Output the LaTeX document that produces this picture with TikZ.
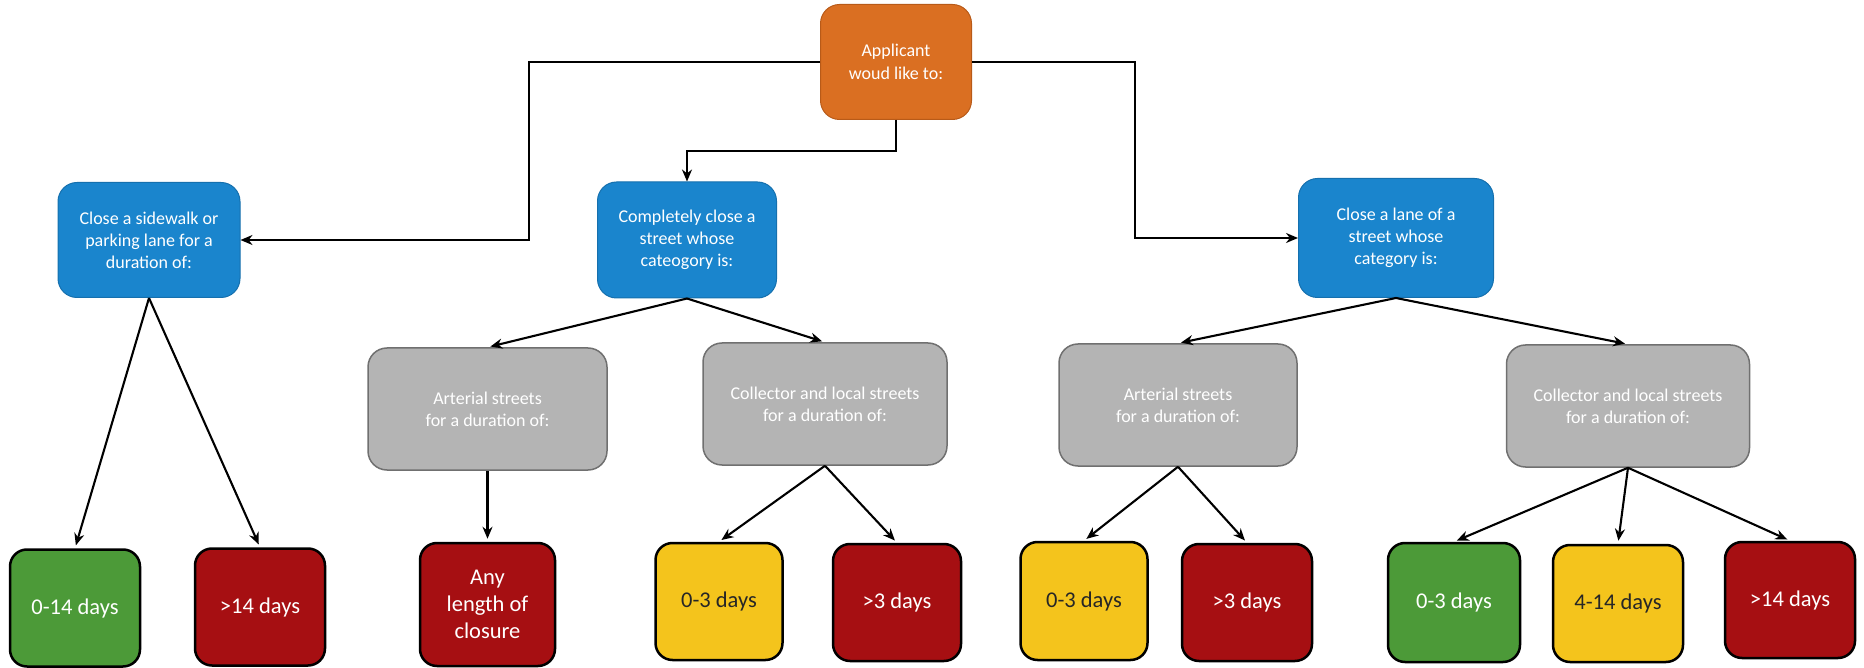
\documentclass[tikz,border=0pt]{standalone}
\usepackage{fontspec}
\setmainfont{Carlito}
\usetikzlibrary{arrows.meta}
\definecolor{corange}{HTML}{DA6F22}
\definecolor{corangeb}{HTML}{B85A18}
\definecolor{cblue}{HTML}{1A85CD}
\definecolor{cblueb}{HTML}{1570AE}
\definecolor{cgrey}{HTML}{B4B4B4}
\definecolor{cgreyb}{HTML}{707070}
\definecolor{cgreen}{HTML}{4C9A38}
\definecolor{cred}{HTML}{A60F12}
\definecolor{cyellow}{HTML}{F4C41C}
\definecolor{cdark}{HTML}{262626}
\begin{document}
\begin{tikzpicture}[x=1pt,y=-1pt,
  basebox/.style={rounded corners=19pt, inner sep=0pt, align=center, text=white},
  topbox/.style={basebox, fill=corange, draw=corangeb, line width=1pt, font=\fontsize{18}{23}\selectfont},
  bluebox/.style={basebox, fill=cblue, draw=cblueb, line width=1pt, font=\fontsize{18}{22}\selectfont},
  greybox/.style={basebox, fill=cgrey, draw=cgreyb, line width=1.5pt, text=white, font=\fontsize{18}{22}\selectfont},
  resbox/.style={basebox, rounded corners=17pt, draw=black, line width=2.5pt, minimum width=129pt, minimum height=117pt, font=\fontsize{22.5}{27}\selectfont},
  greenres/.style={resbox, fill=cgreen},
  redres/.style={resbox, fill=cred},
  yellowres/.style={resbox, fill=cyellow, text=cdark},
  arr/.style={draw=black, line width=2.1pt, -{Stealth[length=12pt,width=10pt]}},
  darr/.style={arr, shorten >=3pt}
]
\useasboundingbox (0,0) rectangle (1864,668);

% top
\node[topbox, minimum width=151pt, minimum height=115pt] (app) at (896,62) {Applicant\\woud like to:};

% second level
\node[bluebox, minimum width=182pt, minimum height=115pt] (side) at (149,240) {Close a sidewalk or\\parking lane for a\\duration of:};
\node[bluebox, minimum width=179pt, minimum height=116pt] (comp) at (687,240) {Completely close a\\street whose\\cateogory is:};
\node[bluebox, minimum width=195pt, minimum height=119pt] (lane) at (1396,238) {Close a lane of a\\street whose\\category is:};

% third level
\node[greybox, minimum width=239pt, minimum height=122pt] (art1) at (487.5,409) {Arterial streets\\for a duration of:};
\node[greybox, minimum width=244pt, minimum height=122pt] (col1) at (825,404) {Collector and local streets\\for a duration of:};
\node[greybox, minimum width=238pt, minimum height=122pt] (art2) at (1178,405) {Arterial streets\\for a duration of:};
\node[greybox, minimum width=243pt, minimum height=122pt] (col2) at (1628,406) {Collector and local streets\\for a duration of:};

% results
\node[greenres, minimum width=130pt] (b1) at (75,608) {0-14 days};
\node[redres, minimum width=130pt] (b2) at (260,607) {>14 days};
\node[redres, minimum width=135pt, minimum height=123pt] (b3) at (487.5,604.5) {Any\\length of\\closure};
\node[yellowres, minimum width=127pt] (b4) at (719,601.5) {0-3 days};
\node[redres, minimum width=128pt] (b5) at (897,602.5) {>3 days};
\node[yellowres, minimum width=127pt, minimum height=118pt] (b6) at (1084,601) {0-3 days};
\node[redres, minimum width=130pt] (b7) at (1247,602.5) {>3 days};
\node[greenres, minimum width=132pt, minimum height=119pt] (b8) at (1454,602.5) {0-3 days};
\node[yellowres, minimum width=130pt] (b9) at (1618,603.5) {4-14 days};
\node[redres, minimum width=130pt, minimum height=116pt] (b10) at (1790,600) {>14 days};

% elbow connectors
\draw[arr] (app.west) -- ++(-291,0) |- (side.east);
\draw[arr] (app.south) -- ++(0,31) -| (comp.north);
\draw[arr] (app.east) -- ++(163,0) |- (lane.west);

% diagonal connectors
\draw[darr] (side.south) -- (b1.north);
\draw[darr] (side.south) -- (b2.north);
\draw[darr] (comp.south) -- (art1.north);
\draw[darr] (comp.south) -- (col1.north);
\draw[darr] (art1.south) -- (b3.north);
\draw[darr] (col1.south) -- (b4.north);
\draw[darr] (col1.south) -- (b5.north);
\draw[darr] (lane.south) -- (art2.north);
\draw[darr] (lane.south) -- (col2.north);
\draw[darr] (art2.south) -- (b6.north);
\draw[darr] (art2.south) -- (b7.north);
\draw[darr] (col2.south) -- (b8.north);
\draw[darr] (col2.south) -- (b9.north);
\draw[darr] (col2.south) -- (b10.north);
\end{tikzpicture}
\end{document}
